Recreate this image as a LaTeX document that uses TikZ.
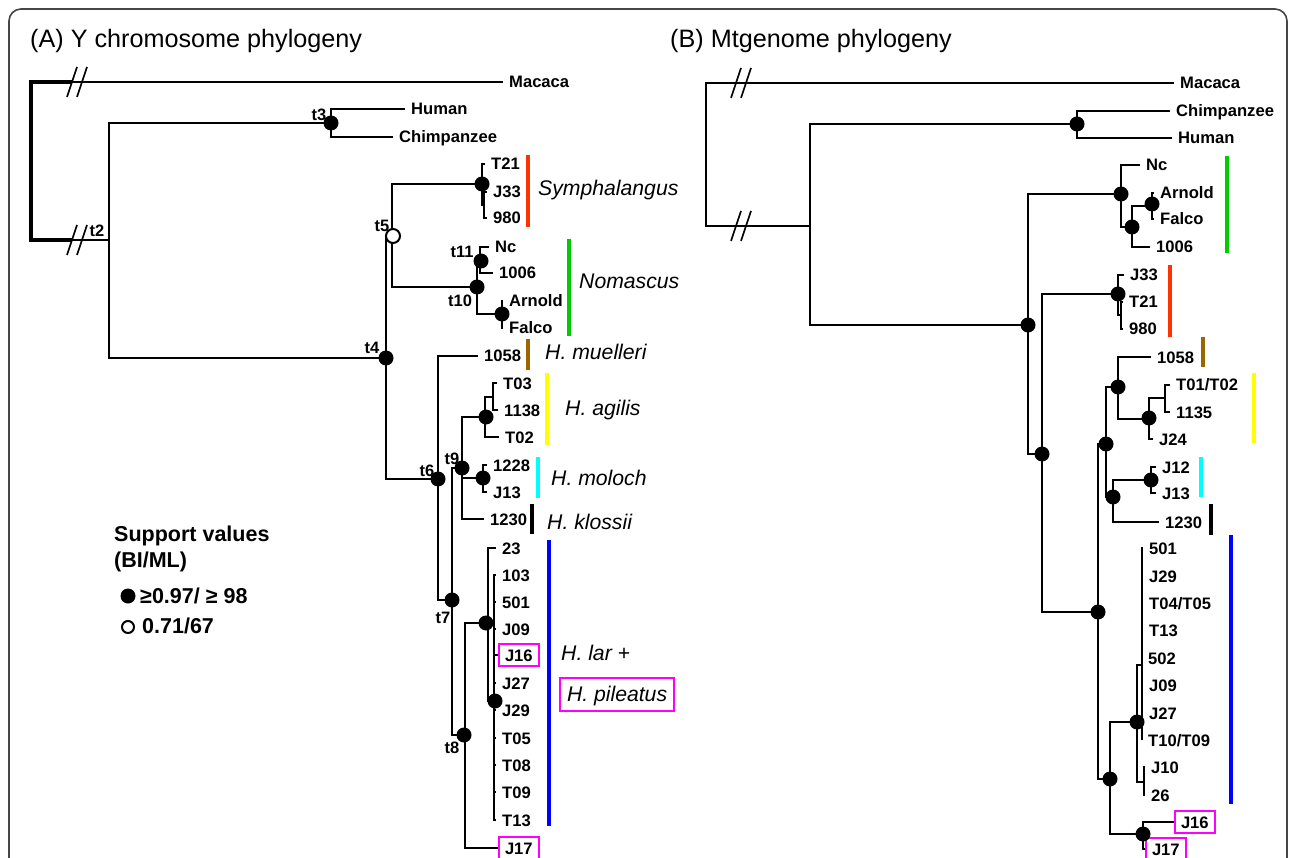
\documentclass[tikz,border=0pt]{standalone}
\usepackage{fontspec}
\setmainfont{Liberation Sans}
\definecolor{cRed}{RGB}{255,51,0}
\definecolor{cGreen}{RGB}{0,204,0}
\definecolor{cBrown}{RGB}{153,102,0}
\definecolor{cYellow}{RGB}{255,255,0}
\definecolor{cCyan}{RGB}{0,255,255}
\definecolor{cBlue}{RGB}{0,0,255}
\definecolor{cMag}{RGB}{255,0,255}
\definecolor{cFrame}{RGB}{70,70,70}
\newcommand{\leafnode}[4]{\coordinate (#1) at (#2,#3); \node[leaflab] (#1l) at (#2+6,#3) {#4};}
\tikzset{
  branch/.style={line width=2pt},
  rootln/.style={line width=3.5pt},
  brk/.style={line width=1.6pt},
  leaflab/.style={font=\fontsize{16.6}{19}\selectfont\bfseries, inner sep=0pt, text height=12pt, text depth=0pt, anchor=west},
  nodelab/.style={font=\fontsize{16.5}{19}\selectfont\bfseries, inner sep=0pt},
  cladelab/.style={font=\fontsize{21.2}{25}\selectfont\itshape, inner sep=0pt, text height=15pt, text depth=0pt, anchor=west},
  legtxt/.style={font=\fontsize{21.5}{25}\selectfont\bfseries, inner sep=0pt, anchor=base west},
  ttl/.style={font=\fontsize{25.2}{29}\selectfont, inner sep=0pt, anchor=base west},
  dotf/.style={circle, fill=black, minimum size=15pt, inner sep=0pt},
  doto/.style={circle, draw=black, fill=white, line width=2pt, minimum size=14pt, inner sep=0pt},
  cbar/.style={line width=4pt},
  mbox/.style={draw=cMag, line width=2pt, inner xsep=6pt, inner ysep=5pt},
  framec/.style={draw=cFrame, line width=1.6pt, rounded corners=12pt},
}
\begin{document}
\begin{tikzpicture}[x=1pt,y=-1pt]
\useasboundingbox (0,0) rectangle (1290,858);
\clip (0,0) rectangle (1290,858);
\fill[white] (0,0) rectangle (1290,858);
\draw[framec] (9,900) -- (9,9) -- (1287,9) -- (1287,900);

% titles
\node[ttl] (titA) at (30,48) {(A) Y chromosome phylogeny};
\node[ttl] (titB) at (670,48) {(B) Mtgenome phylogeny};

% ================= Panel A =================
\leafnode{aMac}{503}{82}{Macaca}
\leafnode{aHum}{405}{109}{Human}
\leafnode{aChi}{393}{137}{Chimpanzee}
\leafnode{aT21}{485}{164}{T21}
\leafnode{aJ33}{487}{192}{J33}
\leafnode{a980}{487}{218}{980}
\leafnode{aNc}{489}{247}{Nc}
\leafnode{a1006}{493}{273}{1006}
\leafnode{aArn}{503}{301}{Arnold}
\leafnode{aFal}{503}{328}{Falco}
\leafnode{a1058}{478}{356}{1058}
\leafnode{aT03}{497}{383}{T03}
\leafnode{a1138}{498}{410}{1138}
\leafnode{aT02}{499}{437}{T02}
\leafnode{a1228}{487}{465}{1228}
\leafnode{aJ13}{487}{492}{J13}
\leafnode{a1230}{484}{519}{1230}
\leafnode{a23}{496}{548}{23}
\leafnode{a103}{496}{575}{103}
\leafnode{a501}{496}{602}{501}
\leafnode{aJ09}{496}{629}{J09}
\leafnode{aJ27}{496}{683}{J27}
\leafnode{aJ29}{496}{710}{J29}
\leafnode{aT05}{496}{738}{T05}
\leafnode{aT08}{496}{765}{T08}
\leafnode{aT09}{496}{792}{T09}
\leafnode{aT13}{496}{820}{T13}
\node[leaflab, mbox] (J16A) at (498,655) {J16};
\node[leaflab, mbox] (J17A) at (498,848) {J17};

\coordinate (aRoot) at (31,161);
\coordinate (aBk1) at (72,82);
\coordinate (aBk2) at (72,240);
\coordinate (a2) at (109,240);
\coordinate (a3) at (331,123);
\coordinate (a4) at (386,358);
\coordinate (a5) at (392,236);
\coordinate (aS) at (482,184);
\coordinate (aS2) at (484,205);
\coordinate (a10) at (477,287);
\coordinate (a11) at (480,261);
\coordinate (aAF) at (502,314);
\coordinate (a6) at (438,479);
\coordinate (a7) at (452,600);
\coordinate (a9) at (462,468);
\coordinate (a8) at (465,735);
\coordinate (aAG) at (485,417);
\coordinate (aAG2) at (493,397);
\coordinate (aMO) at (483,478);
\coordinate (aLAR) at (488,623);
\coordinate (aLAR2) at (494,701);

\draw[rootln] (aBk1) -| (aRoot) |- (aBk2);
\draw[branch] (aBk1) -- (aMac);
\draw[branch] (aBk2) -- (a2);
\draw[brk] (67,97) -- (77,67) (77,97) -- (87,67);
\draw[brk] (67,255) -- (77,225) (77,255) -- (87,225);
\draw[branch] (a2) |- (a3);
\draw[branch] (a2) |- (a4);
\draw[branch] (a3) |- (aHum);
\draw[branch] (a3) |- (aChi);
\draw[branch] (a4) |- (a5);
\draw[branch] (a4) |- (a6);
\draw[branch] (a5) |- (aS);
\draw[branch] (a5) |- (a10);
\draw[branch] (aS) |- (aT21);
\draw[branch] (aS) |- (aS2);
\draw[branch] (aS2) |- (aJ33);
\draw[branch] (aS2) |- (a980);
\draw[branch] (a10) |- (a11);
\draw[branch] (a10) |- (aAF);
\draw[branch] (a11) |- (aNc);
\draw[branch] (a11) |- (a1006);
\draw[branch] (aAF) |- (aArn);
\draw[branch] (aAF) |- (aFal);
\draw[branch] (a6) |- (a1058);
\draw[branch] (a6) |- (a7);
\draw[branch] (a7) |- (a9);
\draw[branch] (a7) |- (a8);
\draw[branch] (a9) |- (aAG);
\draw[branch] (a9) |- (aMO);
\draw[branch] (a9) |- (a1230);
\draw[branch] (aAG) |- (aAG2);
\draw[branch] (aAG) |- (aT02);
\draw[branch] (aAG2) |- (aT03);
\draw[branch] (aAG2) |- (a1138);
\draw[branch] (aMO) |- (a1228);
\draw[branch] (aMO) |- (aJ13);
\draw[branch] (a8) |- (aLAR);
\draw[branch] (a8) |- (J17A.west);
\draw[branch] (aLAR) |- (a23);
\draw[branch] (aLAR) |- (aLAR2);
\foreach \t in {a103,a501,aJ09,aJ27,aJ29,aT05,aT08,aT09,aT13}
  \draw[branch] (aLAR2) |- (\t);
\draw[branch] (aLAR2) |- (J16A.west);

\node[dotf] (d3) at (a3) {};
\node[dotf] (d4) at (a4) {};
\node[doto] (d5) at (393,236) {};
\node[dotf] (dS) at (aS) {};
\node[dotf] (d10) at (a10) {};
\node[dotf] (d11) at (481,261) {};
\node[dotf] (dAF) at (aAF) {};
\node[dotf] (d6) at (a6) {};
\node[dotf] (d7) at (a7) {};
\node[dotf] (d9) at (a9) {};
\node[dotf] (d8) at (464,735) {};
\node[dotf] (dAG) at (486,417) {};
\node[dotf] (dMO) at (aMO) {};
\node[dotf] (dLAR) at (486,623) {};
\node[dotf] (dLAR2) at (495,701) {};

\node[nodelab] (lt2) at (97,231) {t2};
\node[nodelab] (lt3) at (319,115) {t3};
\node[nodelab] (lt4) at (372,348) {t4};
\node[nodelab] (lt5) at (382,226) {t5};
\node[nodelab] (lt6) at (427,471) {t6};
\node[nodelab] (lt7) at (443,618) {t7};
\node[nodelab] (lt8) at (452,748) {t8};
\node[nodelab] (lt9) at (452,459) {t9};
\node[nodelab] (lt10) at (460,301) {t10};
\node[nodelab] (lt11) at (462,252) {t11};

% clade bars A
\draw[cbar, cRed] (528,155) -- (528,227);
\draw[cbar, cGreen] (569,239) -- (569,336);
\draw[cbar, cBrown] (528,339) -- (528,370);
\draw[cbar, cYellow] (547,373) -- (547,445);
\draw[cbar, cCyan] (538,457) -- (538,498);
\draw[cbar, black] (532,504) -- (532,534);
\draw[cbar, cBlue] (549,540) -- (549,826);

\node[cladelab] (cSym) at (538,188) {Symphalangus};
\node[cladelab] (cNom) at (579,281) {Nomascus};
\node[cladelab] (cMue) at (545,352) {H. muelleri};
\node[cladelab] (cAgi) at (565,408) {H. agilis};
\node[cladelab] (cMol) at (551,478) {H. moloch};
\node[cladelab] (cKlo) at (547,522) {H. klossii};
\node[cladelab] (cLar) at (561,653) {H. lar +};
\node[cladelab, draw=cMag, line width=2pt, inner xsep=7pt, inner ysep=9pt] (cPil) at (559,694) {H. pileatus};

% legend
\node[legtxt] (lg1) at (114,541) {Support values};
\node[legtxt] (lg2) at (114,567) {(BI/ML)};
\node[dotf, minimum size=15pt] (lgF) at (128,596) {};
\node[legtxt] (lg3) at (140,603) {≥0.97/ ≥ 98};
\node[doto, minimum size=12pt] (lgO) at (128,627) {};
\node[legtxt] (lg4) at (142,633) {0.71/67};

% ================= Panel B =================
\leafnode{bMac}{1174}{83}{Macaca}
\leafnode{bChi}{1170}{111}{Chimpanzee}
\leafnode{bHum}{1172}{138}{Human}
\leafnode{bNc}{1140}{165}{Nc}
\leafnode{bArn}{1154}{193}{Arnold}
\leafnode{bFal}{1154}{219}{Falco}
\leafnode{b1006}{1150}{247}{1006}
\leafnode{bJ33}{1124}{275}{J33}
\leafnode{bT21}{1123}{302}{T21}
\leafnode{b980}{1123}{329}{980}
\leafnode{b1058}{1151}{357}{1058}
\leafnode{bT01}{1170}{385}{T01/T02}
\leafnode{b1135}{1170}{412}{1135}
\leafnode{bJ24}{1153}{439}{J24}
\leafnode{bJ12}{1156}{467}{J12}
\leafnode{bJ13}{1156}{493}{J13}
\leafnode{b1230}{1159}{522}{1230}
\leafnode{b501}{1143}{548}{501}
\leafnode{bJ29}{1143}{576}{J29}
\leafnode{bT04}{1143}{603}{T04/T05}
\leafnode{bT13}{1143}{630}{T13}
\leafnode{b502}{1142}{658}{502}
\leafnode{bJ09}{1143}{685}{J09}
\leafnode{bJ27}{1143}{713}{J27}
\leafnode{bT10}{1142}{740}{T10/T09}
\leafnode{bJ10}{1145}{767}{J10}
\leafnode{b26}{1145}{795}{26}
\node[leaflab, mbox] (J16B) at (1174,822) {J16};
\node[leaflab, mbox] (J17B) at (1145,849) {J17};

\coordinate (bRoot) at (706,155);
\coordinate (b2) at (810,226);
\coordinate (bHC) at (1077,124);
\coordinate (bG) at (1028,325);
\coordinate (bNOM) at (1121,194);
\coordinate (bNOM2) at (1132,227);
\coordinate (bAF) at (1152,206);
\coordinate (bG2) at (1042,454);
\coordinate (bSYM) at (1118,294);
\coordinate (bSYM2) at (1121,315);
\coordinate (bG3) at (1098,612);
\coordinate (bN1) at (1106,444);
\coordinate (bMU) at (1118,387);
\coordinate (bAGB) at (1149,419);
\coordinate (bAGB2) at (1165,398);
\coordinate (bM) at (1113,497);
\coordinate (bMOB) at (1151,480);
\coordinate (bN2) at (1110,779);
\coordinate (bLB) at (1137,722);
\coordinate (bLB1) at (1142,665);
\coordinate (bLB2) at (1144,782);
\coordinate (bJJ) at (1143,834);

\draw[branch] (bMac) -| (bRoot) |- (b2);
\draw[brk] (731,98) -- (741,68) (741,98) -- (751,68);
\draw[brk] (731,241) -- (741,211) (741,241) -- (751,211);
\draw[branch] (b2) |- (bHC);
\draw[branch] (b2) |- (bG);
\draw[branch] (bHC) |- (bChi);
\draw[branch] (bHC) |- (bHum);
\draw[branch] (bG) |- (bNOM);
\draw[branch] (bG) |- (bG2);
\draw[branch] (bNOM) |- (bNc);
\draw[branch] (bNOM) |- (bNOM2);
\draw[branch] (bNOM2) |- (bAF);
\draw[branch] (bNOM2) |- (b1006);
\draw[branch] (bAF) |- (bArn);
\draw[branch] (bAF) |- (bFal);
\draw[branch] (bG2) |- (bSYM);
\draw[branch] (bG2) |- (bG3);
\draw[branch] (bSYM) |- (bJ33);
\draw[branch] (bSYM) |- (bSYM2);
\draw[branch] (bSYM2) |- (bT21);
\draw[branch] (bSYM2) |- (b980);
\draw[branch] (bG3) |- (bN1);
\draw[branch] (bG3) |- (bN2);
\draw[branch] (bN1) |- (bMU);
\draw[branch] (bN1) |- (bM);
\draw[branch] (bMU) |- (b1058);
\draw[branch] (bMU) |- (bAGB);
\draw[branch] (bAGB) |- (bAGB2);
\draw[branch] (bAGB) |- (bJ24);
\draw[branch] (bAGB2) |- (bT01);
\draw[branch] (bAGB2) |- (b1135);
\draw[branch] (bM) |- (bMOB);
\draw[branch] (bM) |- (b1230);
\draw[branch] (bMOB) |- (bJ12);
\draw[branch] (bMOB) |- (bJ13);
\draw[branch] (bN2) |- (bLB);
\draw[branch] (bN2) |- (bJJ);
\draw[branch] (bLB) |- (bLB1);
\draw[branch] (bLB) |- (bLB2);
\foreach \t in {b501,bJ29,bT04,bT13,b502,bJ09,bJ27,bT10}
  \draw[branch] (bLB1) |- (\t);
\draw[branch] (bLB2) |- (bJ10);
\draw[branch] (bLB2) |- (b26);
\draw[branch] (bJJ) |- (J16B.west);
\draw[branch] (bJJ) |- (J17B.west);

\node[dotf] (eHC) at (bHC) {};
\node[dotf] (eG) at (bG) {};
\node[dotf] (eNOM) at (bNOM) {};
\node[dotf] (eNOM2) at (bNOM2) {};
\node[dotf] (eAF) at (1152,204) {};
\node[dotf] (eSYM) at (bSYM) {};
\node[dotf] (eG2) at (bG2) {};
\node[dotf] (eG3) at (bG3) {};
\node[dotf] (eN1) at (bN1) {};
\node[dotf] (eMU) at (bMU) {};
\node[dotf] (eAGB) at (1149,418) {};
\node[dotf] (eM) at (bM) {};
\node[dotf] (eMOB) at (bMOB) {};
\node[dotf] (eN2) at (bN2) {};
\node[dotf] (eLB) at (bLB) {};
\node[dotf] (eJJ) at (bJJ) {};

% clade bars B
\draw[cbar, cGreen] (1227,156) -- (1227,253);
\draw[cbar, cRed] (1170,265) -- (1170,337);
\draw[cbar, cBrown] (1203,337) -- (1203,367);
\draw[cbar, cYellow] (1254,373) -- (1254,443);
\draw[cbar, cCyan] (1201,457) -- (1201,497);
\draw[cbar, black] (1211,504) -- (1211,535);
\draw[cbar, cBlue] (1231,535) -- (1231,804);
\end{tikzpicture}
\end{document}
